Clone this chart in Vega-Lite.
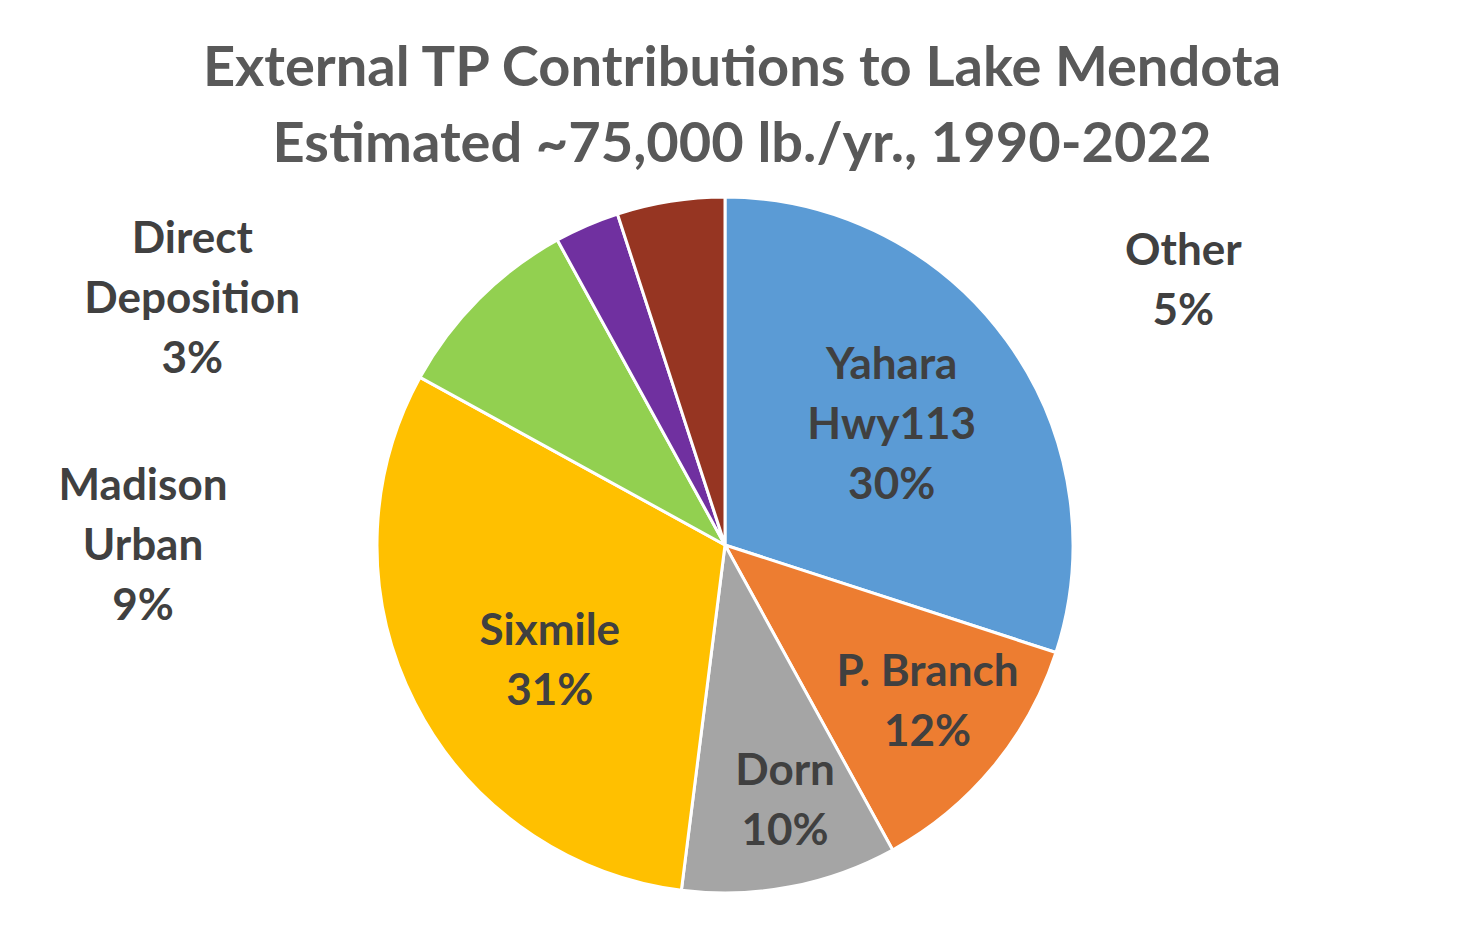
{
  "$schema": "https://vega.github.io/schema/vega-lite/v6.json",
  "width": 1430,
  "height": 772,
  "autosize": {"type": "none"},
  "padding": {"left": 10, "top": 159, "right": 22, "bottom": 0},
  "background": "white",
  "config": {"view": {"stroke": null}, "font": "Lato"},
  "title": {
    "text": ["External TP Contributions to Lake Mendota", "Estimated ~75,000 lb./yr., 1990-2022"],
    "font": "Lato",
    "fontSize": 56,
    "fontWeight": "bold",
    "color": "#595959",
    "lineHeight": 76,
    "anchor": "middle",
    "dx": 17,
    "offset": -15
  },
  "data": {
    "values": [
      {"seq": 1, "source": "Yahara Hwy113", "pct": 30, "label": "Yahara\nHwy113\n30%"},
      {"seq": 2, "source": "P. Branch", "pct": 12, "label": "P. Branch\n12%"},
      {"seq": 3, "source": "Dorn", "pct": 10, "label": "Dorn\n10%"},
      {"seq": 4, "source": "Sixmile", "pct": 31, "label": "Sixmile\n31%"},
      {"seq": 5, "source": "Madison Urban", "pct": 9, "label": "Madison\nUrban\n9%"},
      {"seq": 6, "source": "Direct Deposition", "pct": 3, "label": "Direct\nDeposition\n3%"},
      {"seq": 7, "source": "Other", "pct": 5, "label": "Other\n5%"}
    ]
  },
  "encoding": {
    "theta": {"field": "pct", "type": "quantitative", "stack": true},
    "order": {"field": "seq", "type": "quantitative"}
  },
  "layer": [
    {
      "mark": {"type": "arc", "radius": 348, "stroke": "white", "strokeWidth": 3},
      "encoding": {
        "color": {
          "field": "source",
          "type": "nominal",
          "scale": {
            "domain": ["Yahara Hwy113", "P. Branch", "Dorn", "Sixmile", "Madison Urban", "Direct Deposition", "Other"],
            "range": ["#5B9BD5", "#ED7D31", "#A5A5A5", "#FFC000", "#92D050", "#7030A0", "#963522"]
          },
          "legend": null
        }
      }
    },
    {
      "mark": {"type": "text", "radius": 206, "dy": -58, "fontSize": 44, "fontWeight": "bold", "color": "#404040", "lineHeight": 60, "lineBreak": "\n", "baseline": "middle", "align": "center"},
      "encoding": {"text": {"condition": {"test": "datum.source === 'Yahara Hwy113'", "field": "label"}, "value": ""}}
    },
    {
      "mark": {"type": "text", "radius": 255, "dx": 6, "dy": -35, "fontSize": 44, "fontWeight": "bold", "color": "#404040", "lineHeight": 60, "lineBreak": "\n", "baseline": "middle", "align": "center"},
      "encoding": {"text": {"condition": {"test": "datum.source === 'P. Branch'", "field": "label"}, "value": ""}}
    },
    {
      "mark": {"type": "text", "radius": 262, "dx": 11, "dy": -30, "fontSize": 44, "fontWeight": "bold", "color": "#404040", "lineHeight": 60, "lineBreak": "\n", "baseline": "middle", "align": "center"},
      "encoding": {"text": {"condition": {"test": "datum.source === 'Dorn'", "field": "label"}, "value": ""}}
    },
    {
      "mark": {"type": "text", "radius": 209, "dx": 11, "dy": -8, "fontSize": 44, "fontWeight": "bold", "color": "#404040", "lineHeight": 60, "lineBreak": "\n", "baseline": "middle", "align": "center"},
      "encoding": {"text": {"condition": {"test": "datum.source === 'Sixmile'", "field": "label"}, "value": ""}}
    },
    {
      "mark": {"type": "text", "radius": 420, "dx": -285, "dy": 239, "fontSize": 44, "fontWeight": "bold", "color": "#404040", "lineHeight": 60, "lineBreak": "\n", "baseline": "middle", "align": "center"},
      "encoding": {"text": {"condition": {"test": "datum.source === 'Madison Urban'", "field": "label"}, "value": ""}}
    },
    {
      "mark": {"type": "text", "radius": 420, "dx": -366, "dy": 80, "fontSize": 44, "fontWeight": "bold", "color": "#404040", "lineHeight": 60, "lineBreak": "\n", "baseline": "middle", "align": "center"},
      "encoding": {"text": {"condition": {"test": "datum.source === 'Direct Deposition'", "field": "label"}, "value": ""}}
    },
    {
      "mark": {"type": "text", "radius": 420, "dx": 524, "dy": 122, "fontSize": 44, "fontWeight": "bold", "color": "#404040", "lineHeight": 60, "lineBreak": "\n", "baseline": "middle", "align": "center"},
      "encoding": {"text": {"condition": {"test": "datum.source === 'Other'", "field": "label"}, "value": ""}}
    }
  ]
}
